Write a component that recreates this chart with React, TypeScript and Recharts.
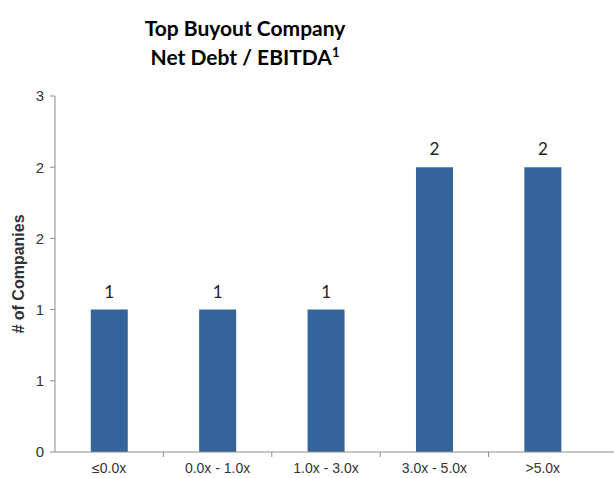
import { Bar, BarChart, LabelList, XAxis, YAxis } from "recharts";

const rangos = ["≤0.0x", "0.0x - 1.0x", "1.0x - 3.0x", "3.0x - 5.0x", ">5.0x"];
const companias = [1, 1, 1, 2, 2];
const ticksY = [0, 0.5, 1, 1.5, 2, 2.5];

const datos = rangos.map((rango, i) => ({ rango, companias: companias[i] }));

const gris = "#8c8c8c";
const fuenteEje = "Arial, 'Liberation Sans', sans-serif";

// category label plus a small tick on the right edge of each band
function TickRango(props: any) {
  const { x, y, payload, index } = props;
  const borde = x + (payload?.offset ?? 0);
  return (
    <g>
      {index < rangos.length - 1 && (
        <line x1={borde} x2={borde} y1={y} y2={y + 5} stroke={gris} />
      )}
      <text x={x} y={y + 21} textAnchor="middle" fontFamily={fuenteEje} fontSize={14} fill="#333">
        {payload.value}
      </text>
    </g>
  );
}

export default function App() {
  return (
    <div style={{ position: "absolute", left: 0, top: 0, width: 614, height: 478, background: "#fff" }}>
      <div
        style={{
          position: "absolute",
          left: 0,
          width: 490,
          top: 13,
          textAlign: "center",
          fontFamily: "Lato, sans-serif",
          fontWeight: 700,
          fontSize: 21,
          lineHeight: "29px",
          color: "#000",
        }}
      >
        <div>Top Buyout Company</div>
        <div>
          Net Debt / EBITDA<sup style={{ fontSize: 13, verticalAlign: 0, position: "relative", top: -8 }}>1</sup>
        </div>
      </div>
      <BarChart
        width={614}
        height={478}
        data={datos}
        margin={{ top: 96, right: 0, left: 0, bottom: 0 }}
        barCategoryGap="33%"
      >
        <XAxis
          dataKey="rango"
          height={26}
          padding={{ left: 0, right: 17 }}
          axisLine={{ stroke: gris }}
          tickLine={false}
          tickSize={0}
          tickMargin={0}
          interval={0}
          tick={<TickRango />}
        />
        <YAxis
          width={55}
          domain={[0, 2.5]}
          ticks={ticksY}
          tickFormatter={(v: number) => String(Math.round(v))}
          axisLine={{ stroke: gris }}
          tickLine={{ stroke: gris }}
          tickSize={5}
          tickMargin={6}
          tick={{ fontFamily: fuenteEje, fontSize: 15, fill: "#333" }}
          label={{
            value: "# of Companies",
            angle: -90,
            position: "insideLeft",
            offset: 18,
            style: {
              textAnchor: "middle",
              fontFamily: fuenteEje,
              fontWeight: 700,
              fontSize: 16,
              fill: "#333",
            },
          }}
        />
        <Bar dataKey="companias" fill="#34649a" isAnimationActive={false}>
          <LabelList
            dataKey="companias"
            position="top"
            offset={12}
            style={{ fontFamily: "Lato, sans-serif", fontSize: 17, fill: "#222" }}
          />
        </Bar>
      </BarChart>
    </div>
  );
}
